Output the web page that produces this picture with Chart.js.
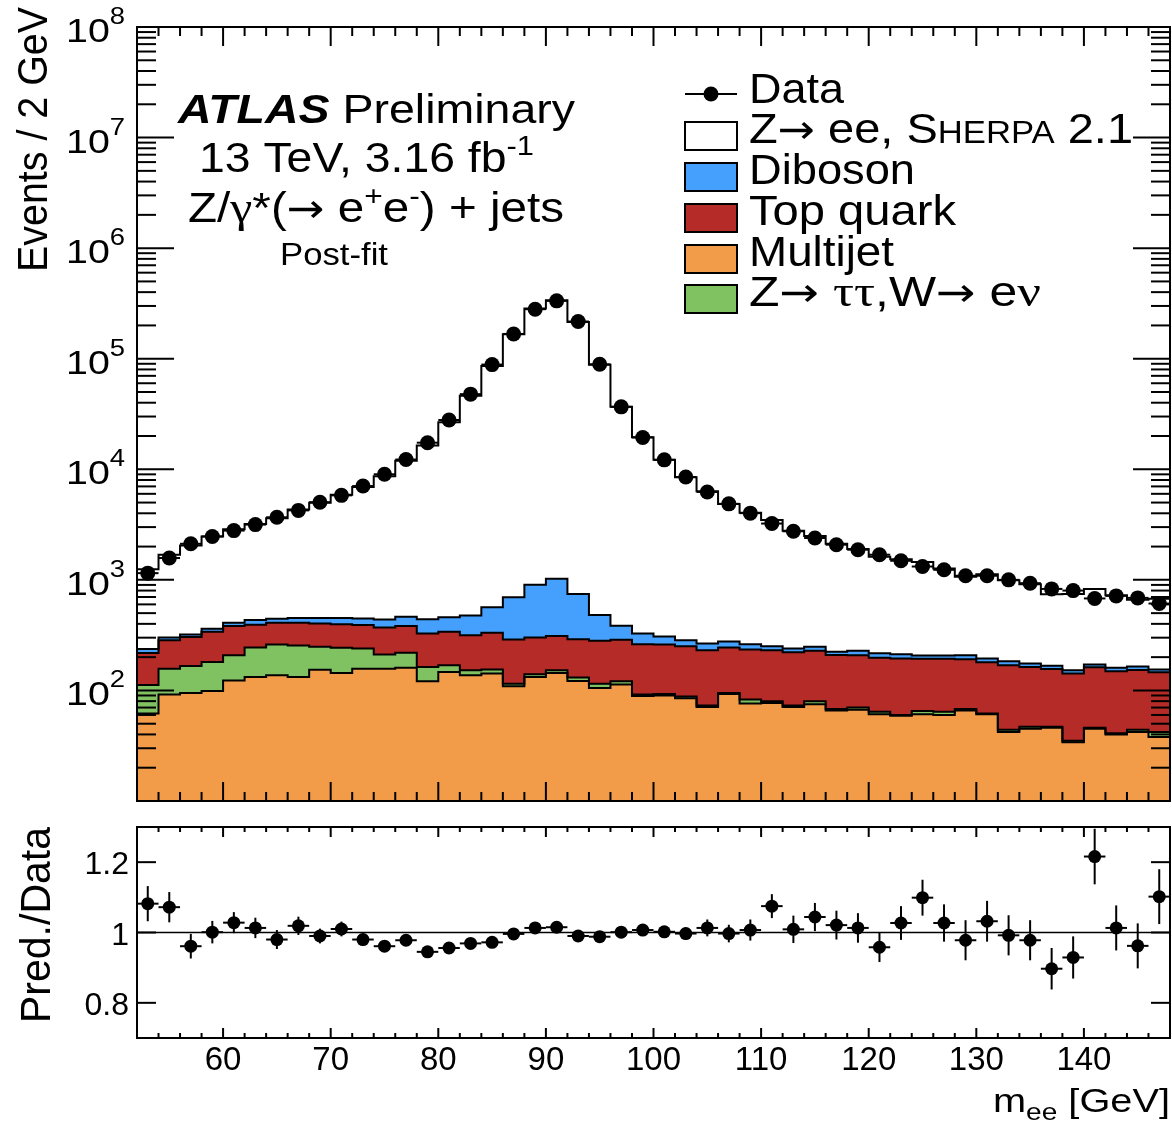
<!DOCTYPE html>
<html>
<head>
<meta charset="utf-8">
<script src="https://cdn.jsdelivr.net/npm/chart.js@4.4.1/dist/chart.umd.min.js"></script>
<style>
  body { margin: 0; background: #fff; }
  .pad { position: absolute; left: 0; }
</style>
</head>
<body>
<canvas id="mainPad" class="pad" style="top:0" width="1172" height="805"></canvas>
<canvas id="ratioPad" class="pad" style="top:805px" width="1172" height="330"></canvas>
<script>
// m_ee bin centres [GeV], bins are 2 GeV wide
const massBins = [53, 55, 57, 59, 61, 63, 65, 67, 69, 71, 73, 75, 77, 79, 81, 83,
  85, 87, 89, 91, 93, 95, 97, 99, 101, 103, 105, 107, 109, 111, 113, 115,
  117, 119, 121, 123, 125, 127, 129, 131, 133, 135, 137, 139, 141, 143, 145, 147];

// events / 2 GeV
const dataCounts = [1150, 1575, 2120, 2470, 2790, 3160, 3680, 4250, 5040, 5810, 7050, 9010, 12250, 17400, 27900, 47800,
  88500, 167500, 280500, 333500, 217000, 89000, 36700, 19400, 12170, 8510, 6240, 4870, 4010, 3230, 2750, 2390,
  2080, 1874, 1688, 1488, 1320, 1233, 1090, 1090, 1000, 933, 828, 800, 679, 716, 687, 611];

// stack components (bottom to top)
const multijet = [62, 92, 95, 99, 123, 132, 137, 132, 154, 144, 157, 157, 160, 121, 147, 137,
  142, 109, 132, 144, 122, 105, 113, 89, 90, 85, 71, 93, 76, 77, 71, 75,
  66, 67, 61, 59, 61, 60, 66, 61, 42, 45, 46, 34, 45, 40, 42, 38];
const ztautauWenu = [50, 65, 71, 82, 85, 112, 123, 123, 94, 99, 82, 54, 59, 42, 22, 15,
  13, 6, 8, 8, 9, 10, 8, 3, 3, 3, 2, 2, 7, 3, 2, 5,
  2, 3, 3, 1, 4, 4, 2, 1, 2, 2, 1, 1, 1, 1, 2, 4];
const topQuark = [106, 128, 139, 158, 174, 149, 149, 154, 156, 153, 151, 160, 163, 165, 170, 163,
  177, 174, 161, 158, 160, 166, 167, 170, 167, 163, 158, 149, 152, 151, 149, 148,
  141, 138, 134, 134, 128, 129, 123, 118, 125, 116, 109, 107, 116, 108, 109, 104];
const diboson = [19, 16, 15, 22, 27, 40, 36, 43, 48, 56, 58, 68, 82, 112, 119, 160,
  232, 407, 600, 711, 455, 200, 96, 66, 47, 34, 35, 33, 26, 20, 18, 20,
  15, 20, 19, 18, 14, 14, 17, 14, 15, 12, 11, 10, 10, 11, 12, 9];
const zeeSherpa = [1010, 1390, 1720, 2110, 2460, 2770, 3160, 3880, 4540, 5420, 6460, 8220, 11500, 16000, 26200, 45800,
  85500, 166000, 283000, 337000, 214000, 87500, 36400, 19200, 11900, 8200, 6060, 4580, 3780, 3220, 2540, 2250,
  1900, 1670, 1400, 1320, 1240, 1060, 858, 930, 807, 737, 575, 591, 654, 565, 496, 518];

// lower pad: Pred./Data
const ratioValues = [1.082, 1.072, 0.961, 1.001, 1.028, 1.013, 0.980, 1.019, 0.990, 1.010, 0.980, 0.961, 0.978, 0.945, 0.956, 0.969,
  0.972, 0.996, 1.013, 1.015, 0.990, 0.988, 1.001, 1.007, 1.002, 0.997, 1.013, 0.997, 1.007, 1.075, 1.009, 1.044,
  1.021, 1.013, 0.958, 1.027, 1.099, 1.027, 0.978, 1.032, 0.992, 0.978, 0.897, 0.929, 1.216, 1.013, 0.962, 1.102];
const ratioErrors = [0.050, 0.043, 0.035, 0.032, 0.030, 0.029, 0.027, 0.026, 0.021, 0.021, 0.018, 0.016, 0.014, 0.011, 0.009, 0.007,
  0.005, 0.004, 0.003, 0.003, 0.004, 0.005, 0.008, 0.011, 0.014, 0.017, 0.024, 0.025, 0.030, 0.034, 0.039, 0.040,
  0.041, 0.042, 0.042, 0.048, 0.051, 0.053, 0.057, 0.058, 0.057, 0.057, 0.059, 0.060, 0.079, 0.064, 0.064, 0.078];

// axis ticks
const xTickLabels = [60, 70, 80, 90, 100, 110, 120, 130, 140];
const yDecades = [2, 3, 4, 5, 6, 7, 8];
const ratioTickLabels = ['0.8', '1', '1.2'];

const X_MIN = 52, X_MAX = 148, HALF_BIN = 1;
const Y_MIN = 10, Y_MAX = 1e8;

const COLORS = {
  zee: '#ffffff',
  diboson: '#45a0fd',
  top: '#b52b27',
  multijet: '#f29c49',
  ztt: '#80c162',
  ink: '#000000',
};

const FONT = '"Liberation Sans", Arial, Helvetica, sans-serif';
const ARROW = '"DejaVu Sans", sans-serif';
const GREEK = '"Liberation Serif", "DejaVu Serif", serif';

function fontOf(r) {
  return `${r.italic ? 'italic ' : ''}${r.bold ? 'bold ' : ''}${r.size}px ${r.family || FONT}`;
}

// draws a run of text pieces (sizes, raised/lowered bits), optionally stretched to a width
function drawRich(ctx, runs, x, y, { width, align = 'left', rotate = false } = {}) {
  const widths = runs.map(r => { ctx.font = fontOf(r); return ctx.measureText(r.t).width; });
  const total = widths.reduce((a, b) => a + b, 0);
  const sx = width ? width / total : 1;
  const start = align === 'right' ? -total * sx : align === 'center' ? -total * sx / 2 : 0;
  ctx.save();
  ctx.translate(x, y);
  if (rotate) ctx.rotate(-Math.PI / 2);
  ctx.translate(start, 0);
  ctx.scale(sx, 1);
  ctx.fillStyle = COLORS.ink;
  ctx.textAlign = 'left';
  ctx.textBaseline = 'alphabetic';
  let cx = 0;
  runs.forEach((r, i) => {
    ctx.font = fontOf(r);
    ctx.fillText(r.t, cx, r.dy || 0);
    cx += widths[i];
  });
  ctx.restore();
}

function line(ctx, x1, y1, x2, y2) {
  ctx.beginPath();
  ctx.moveTo(x1, y1);
  ctx.lineTo(x2, y2);
  ctx.stroke();
}

// histogram as step points at the low bin edges, plus closing edge
function stepPoints(values) {
  const pts = values.map((v, i) => ({ x: massBins[i] - HALF_BIN, y: v }));
  pts.push({ x: massBins[massBins.length - 1] + HALF_BIN, y: values[values.length - 1] });
  return pts;
}

// cumulative stack
const stackOrder = [
  { label: 'Multijet', values: multijet, color: COLORS.multijet },
  { label: 'Z→ ττ,W→ eν', values: ztautauWenu, color: COLORS.ztt },
  { label: 'Top quark', values: topQuark, color: COLORS.top },
  { label: 'Diboson', values: diboson, color: COLORS.diboson },
  { label: 'Z→ ee, Sherpa 2.1', values: zeeSherpa, color: COLORS.zee },
];
let running = massBins.map(() => 0);
const stackDatasets = stackOrder.map((s, i) => {
  running = running.map((r, j) => r + s.values[j]);
  return {
    type: 'line',
    label: s.label,
    data: stepPoints(running),
    stepped: true,
    borderColor: COLORS.ink,
    borderWidth: 2,
    backgroundColor: s.color,
    pointRadius: 0,
    fill: i === 0 ? { value: Y_MIN } : '-1',
    order: stackOrder.length - i + 1,
  };
});

const arrow = size => ({ t: '→', size: size * 0.95, family: ARROW });
const greek = (t, size) => ({ t, size: size * 1.05, family: GREEK });

const mainDecor = {
  id: 'mainDecor',
  afterDatasetsDraw(chart) {
    const { ctx, scales: { x, y } } = chart;
    ctx.save();
    ctx.strokeStyle = COLORS.ink;
    ctx.lineWidth = 2;
    massBins.forEach((m, i) => {
      const py = y.getPixelForValue(dataCounts[i]);
      line(ctx, x.getPixelForValue(m - HALF_BIN), py, x.getPixelForValue(m + HALF_BIN), py);
    });
    ctx.restore();
  },
  afterDraw(chart) {
    const { ctx, chartArea: a, scales: { x, y } } = chart;
    ctx.save();
    ctx.strokeStyle = COLORS.ink;
    ctx.lineWidth = 2;
    ctx.strokeRect(a.left, a.top, a.right - a.left, a.bottom - a.top);

    // x ticks every 2 GeV, long every 10
    for (let v = X_MIN + 2; v < X_MAX; v += 2) {
      const px = x.getPixelForValue(v);
      const len = v % 10 === 0 ? 19 : 9;
      line(ctx, px, a.bottom, px, a.bottom - len);
      line(ctx, px, a.top, px, a.top + len);
    }
    // log y ticks
    for (let e = 1; e < 8; e++) {
      for (let m = 1; m < 10; m++) {
        const v = m * Math.pow(10, e);
        if (v <= Y_MIN || v >= Y_MAX) continue;
        const py = y.getPixelForValue(v);
        const len = m === 1 ? 37 : 19;
        line(ctx, a.left, py, a.left + len, py);
        line(ctx, a.right, py, a.right - len, py);
      }
    }
    // y tick labels 10^n
    yDecades.forEach(n => {
      const py = y.getPixelForValue(Math.pow(10, n));
      drawRich(ctx, [{ t: '10', size: 33 }, { t: String(n), size: 23, dy: -18 }], 66, py + 15, { width: 59 });
    });
    // axis title
    drawRich(ctx, [{ t: 'Events / 2 GeV', size: 42 }], 47, 272, { width: 265, rotate: true });

    // ATLAS label block
    drawRich(ctx, [{ t: 'ATLAS', size: 41, bold: true, italic: true }, { t: ' Preliminary', size: 41 }], 178, 123, { width: 397 });
    drawRich(ctx, [{ t: '13 TeV, 3.16 fb', size: 42 }, { t: '-1', size: 28, dy: -17 }], 199, 172, { width: 335 });
    drawRich(ctx, [{ t: 'Z/', size: 42 }, greek('γ', 42), { t: '*(', size: 42 }, arrow(42), { t: ' e', size: 42 },
      { t: '+', size: 28, dy: -17 }, { t: 'e', size: 42 },
      { t: '-', size: 28, dy: -17 }, { t: ') + jets', size: 42 }], 188, 222, { width: 376 });
    drawRich(ctx, [{ t: 'Post-fit', size: 31 }], 280, 265, { width: 108 });

    // legend
    const boxL = 685, boxW = 52, textX = 749;
    line(ctx, boxL, 94, boxL + boxW, 94);
    ctx.fillStyle = COLORS.ink;
    ctx.beginPath();
    ctx.arc(boxL + boxW / 2, 94, 7.5, 0, Math.PI * 2);
    ctx.fill();
    drawRich(ctx, [{ t: 'Data', size: 42 }], textX, 103, { width: 95 });

    const entries = [
      { color: COLORS.zee, top: 122, base: 143, w: 384,
        runs: [{ t: 'Z', size: 42 }, arrow(42), { t: ' ee, ', size: 42 }, { t: 'S', size: 42 }, { t: 'HERPA', size: 31 }, { t: ' 2.1', size: 42 }] },
      { color: COLORS.diboson, top: 163, base: 184, w: 166, runs: [{ t: 'Diboson', size: 42 }] },
      { color: COLORS.top, top: 204, base: 225, w: 207, runs: [{ t: 'Top quark', size: 42 }] },
      { color: COLORS.multijet, top: 245, base: 266, w: 145, runs: [{ t: 'Multijet', size: 42 }] },
      { color: COLORS.ztt, top: 285, base: 306, w: 292,
        runs: [{ t: 'Z', size: 42 }, arrow(42), { t: ' ', size: 42 }, greek('ττ', 42), { t: ',W', size: 42 }, arrow(42),
          { t: ' e', size: 42 }, greek('ν', 42)] },
    ];
    entries.forEach(en => {
      ctx.fillStyle = en.color;
      ctx.fillRect(boxL, en.top, boxW, 28);
      ctx.strokeRect(boxL, en.top, boxW, 28);
      drawRich(ctx, en.runs, textX, en.base, { width: en.w });
    });
    ctx.restore();
  },
};

const ratioDecor = {
  id: 'ratioDecor',
  afterDatasetsDraw(chart) {
    const { ctx, scales: { x, y } } = chart;
    ctx.save();
    ctx.strokeStyle = COLORS.ink;
    ctx.lineWidth = 2;
    massBins.forEach((m, i) => {
      const px = x.getPixelForValue(m);
      const py = y.getPixelForValue(ratioValues[i]);
      line(ctx, x.getPixelForValue(m - HALF_BIN), py, x.getPixelForValue(m + HALF_BIN), py);
      line(ctx, px, y.getPixelForValue(ratioValues[i] - ratioErrors[i]), px, y.getPixelForValue(ratioValues[i] + ratioErrors[i]));
    });
    ctx.restore();
  },
  afterDraw(chart) {
    const { ctx, chartArea: a, scales: { x, y } } = chart;
    ctx.save();
    ctx.strokeStyle = COLORS.ink;
    ctx.lineWidth = 2;
    ctx.strokeRect(a.left, a.top, a.right - a.left, a.bottom - a.top);
    for (let v = X_MIN + 2; v < X_MAX; v += 2) {
      const px = x.getPixelForValue(v);
      const len = v % 10 === 0 ? 10 : 5;
      line(ctx, px, a.bottom, px, a.bottom - len);
      line(ctx, px, a.top, px, a.top + len);
    }
    ratioTickLabels.forEach(lbl => {
      const py = y.getPixelForValue(parseFloat(lbl));
      line(ctx, a.left, py, a.left + 19, py);
      line(ctx, a.right, py, a.right - 19, py);
      drawRich(ctx, [{ t: lbl, size: 32 }], 129, py + 12, { align: 'right' });
    });
    xTickLabels.forEach(v => {
      drawRich(ctx, [{ t: String(v), size: 33 }], x.getPixelForValue(v), 265, { align: 'center' });
    });
    drawRich(ctx, [{ t: 'Pred./Data', size: 42 }], 50, 218, { width: 196, rotate: true });
    drawRich(ctx, [{ t: 'm', size: 34 }, { t: 'ee', size: 24, dy: 8 }, { t: ' [GeV]', size: 34 }], 1170, 307, { width: 177, align: 'right' });
    ctx.restore();
  },
};

function padOptions(yScale, padding) {
  return {
    responsive: false,
    animation: false,
    events: [],
    layout: { padding, autoPadding: false },
    plugins: {
      legend: { display: false },
      tooltip: { enabled: false },
      filler: { drawTime: 'beforeDatasetsDraw' },
    },
    scales: {
      x: { type: 'linear', min: X_MIN, max: X_MAX, display: false },
      y: yScale,
    },
  };
}

new Chart(document.getElementById('mainPad'), {
  type: 'line',
  data: {
    datasets: [
      ...stackDatasets,
      {
        type: 'scatter',
        label: 'Data',
        data: massBins.map((m, i) => ({ x: m, y: dataCounts[i] })),
        pointRadius: 7.5,
        pointBackgroundColor: COLORS.ink,
        pointBorderWidth: 0,
        showLine: false,
        order: 0,
      },
    ],
  },
  options: padOptions({ type: 'logarithmic', min: Y_MIN, max: Y_MAX, display: false },
    { left: 137, right: 2, top: 27, bottom: 4 }),
  plugins: [mainDecor],
});

new Chart(document.getElementById('ratioPad'), {
  type: 'line',
  data: {
    datasets: [
      {
        type: 'line',
        label: 'unity',
        data: [{ x: X_MIN, y: 1 }, { x: X_MAX, y: 1 }],
        borderColor: COLORS.ink,
        borderWidth: 1.5,
        pointRadius: 0,
        fill: false,
        order: 1,
      },
      {
        type: 'scatter',
        label: 'Pred./Data',
        data: massBins.map((m, i) => ({ x: m, y: ratioValues[i] })),
        pointRadius: 6.5,
        pointBackgroundColor: COLORS.ink,
        pointBorderWidth: 0,
        showLine: false,
        order: 0,
      },
    ],
  },
  options: padOptions({ type: 'linear', min: 0.7, max: 1.3, display: false },
    { left: 137, right: 2, top: 22, bottom: 97 }),
  plugins: [ratioDecor],
});
</script>
</body>
</html>
